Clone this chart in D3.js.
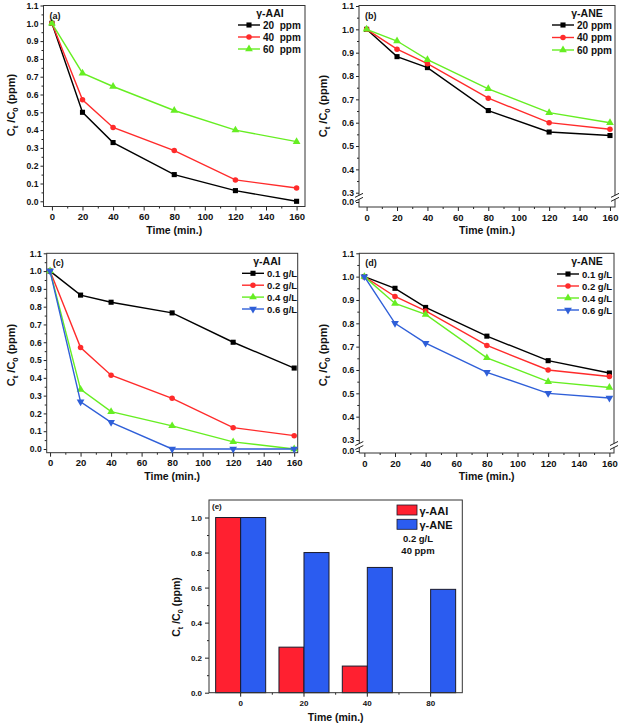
<!DOCTYPE html>
<html><head><meta charset="utf-8">
<script src="https://cdn.jsdelivr.net/npm/d3@7"></script>
<style>
body{margin:0;background:#fff}
svg{display:block}
text{font-family:"Liberation Sans",Arial,Helvetica,sans-serif;font-weight:bold;fill:#111;white-space:pre}
</style>
</head><body>
<svg id="c" width="620" height="725"></svg>
<script>
// ---------- DATA ----------
const timeMin = [0, 20, 40, 80, 120, 160];
const xTicks = [0, 20, 40, 60, 80, 100, 120, 140, 160];
const xMinor = [10, 30, 50, 70, 90, 110, 130, 150];
const yTicksFull = [0.0, 0.1, 0.2, 0.3, 0.4, 0.5, 0.6, 0.7, 0.8, 0.9, 1.0, 1.1];
const yMinorFull = [0.05, 0.15, 0.25, 0.35, 0.45, 0.55, 0.65, 0.75, 0.85, 0.95, 1.05];
const yTicksBroken = [0.0, 0.3, 0.4, 0.5, 0.6, 0.7, 0.8, 0.9, 1.0, 1.1];
const yMinorBroken = [0.35, 0.45, 0.55, 0.65, 0.75, 0.85, 0.95, 1.05];

// (a) gamma-AAI, concentration
const aLabels = ["20  ppm", "40  ppm", "60  ppm"];
const aAAI20 = [1.0, 0.50, 0.33, 0.15, 0.06, 0.0];
const aAAI40 = [1.0, 0.57, 0.415, 0.285, 0.12, 0.075];
const aAAI60 = [1.0, 0.72, 0.645, 0.51, 0.40, 0.335];

// (b) gamma-ANE, concentration
const bLabels = ["20 ppm", "40 ppm", "60 ppm"];
const bANE20 = [1.0, 0.883, 0.836, 0.652, 0.56, 0.545];
const bANE40 = [1.0, 0.915, 0.853, 0.705, 0.60, 0.572];
const bANE60 = [1.0, 0.95, 0.87, 0.745, 0.643, 0.60];

// (c) gamma-AAI, dose
const cLabels = ["0.1 g/L", "0.2 g/L", "0.4 g/L", "0.6 g/L"];
const cAAI01 = [1.0, 0.865, 0.825, 0.765, 0.60, 0.455];
const cAAI02 = [1.0, 0.57, 0.415, 0.285, 0.12, 0.075];
const cAAI04 = [1.0, 0.335, 0.21, 0.13, 0.04, 0.0];
const cAAI06 = [1.0, 0.265, 0.15, 0.0, 0.0, 0.0];

// (d) gamma-ANE, dose
const dLabels = ["0.1 g/L", "0.2 g/L", "0.4 g/L", "0.6 g/L"];
const dANE01 = [1.0, 0.95, 0.868, 0.745, 0.64, 0.587];
const dANE02 = [1.0, 0.915, 0.853, 0.705, 0.60, 0.572];
const dANE04 = [1.0, 0.885, 0.838, 0.652, 0.55, 0.525];
const dANE06 = [1.0, 0.80, 0.715, 0.59, 0.50, 0.48];

// (e) bars
const eCategories = ["0", "20", "40", "80"];
const eSeries = ["γ-AAI", "γ-ANE"];
const eAAI = [1.0, 0.26, 0.152, 0.0];
const eANE = [1.0, 0.80, 0.715, 0.59];
const eTicks = [0.0, 0.2, 0.4, 0.6, 0.8, 1.0];
const eMinor = [0.1, 0.3, 0.5, 0.7, 0.9];

// ---------- STYLE ----------
const COL = {black: "#000000", red: "#ff2b2b", green: "#66ee22", blue: "#2f5fd8"};
const SYM = [
  {type: d3.symbolSquare, size: 26, rot: 0},
  {type: d3.symbolCircle, size: 24, rot: 0},
  {type: d3.symbolTriangle, size: 26, rot: 0},
  {type: d3.symbolTriangle, size: 26, rot: 180}
];
const seriesColors = [COL.black, COL.red, COL.green, COL.blue];

const svg = d3.select("#c");

function styleAxis(g, fs) {
  g.attr("font-family", null).attr("font-size", null);
  g.selectAll("text").attr("font-size", fs).style("font-weight", "bold").attr("fill", "#111");
  g.selectAll("line").attr("stroke", "#222");
  g.select(".domain").remove();
}

function yTitle(g, cx, cy, fs) {
  const t = g.append("text").attr("transform", `translate(${cx},${cy}) rotate(-90)`)
    .attr("text-anchor", "middle").attr("font-size", fs);
  t.append("tspan").text("C");
  t.append("tspan").attr("font-size", fs * 0.7).attr("dy", 3).text("t");
  t.append("tspan").attr("dy", -3).text(" /C");
  t.append("tspan").attr("font-size", fs * 0.7).attr("dy", 3).text("0");
  t.append("tspan").attr("dy", -3).text(" (ppm)");
}

function drawLinePanel(p) {
  const g = svg.append("g");
  const x = d3.scaleLinear().domain(p.xDomain).range([p.L, p.R]);
  const y = d3.scaleLinear().domain(p.yDomain).range(p.yRange);

  const gx = g.append("g").attr("transform", `translate(0,${p.B})`)
    .call(d3.axisBottom(x).tickValues(xTicks).tickSize(4).tickPadding(3).tickFormat(d3.format("d")));
  styleAxis(gx, 9.5);
  const gxm = g.append("g").attr("transform", `translate(0,${p.B})`)
    .call(d3.axisBottom(x).tickValues(xMinor).tickSize(2).tickFormat(""));
  styleAxis(gxm, 9);
  const gy = g.append("g").attr("transform", `translate(${p.L},0)`)
    .call(d3.axisLeft(y).tickValues(p.yTicks).tickSize(3).tickPadding(2).tickFormat(d3.format(".1f")));
  styleAxis(gy, 8.6);
  const gym = g.append("g").attr("transform", `translate(${p.L},0)`)
    .call(d3.axisLeft(y).tickValues(p.yMinor).tickSize(2).tickFormat(""));
  styleAxis(gym, 9);

  g.append("rect").attr("x", p.L).attr("y", p.T).attr("width", p.R - p.L).attr("height", p.B - p.T)
    .attr("fill", "none").attr("stroke", "#333").attr("stroke-width", 1);

  if (p.broken) {
    const ym = (y(0) + y(0.3)) / 2;
    [p.L, p.R].forEach(ax => {
      g.append("rect").attr("x", ax - 4).attr("y", ym - 2).attr("width", 8).attr("height", 4).attr("fill", "#fff");
      [-2, 2].forEach(o => {
        g.append("line").attr("x1", ax - 4).attr("y1", ym + o + 2).attr("x2", ax + 4).attr("y2", ym + o - 2)
          .attr("stroke", "#222").attr("stroke-width", 1);
      });
    });
  }

  const line = d3.line().x((d, i) => x(timeMin[i])).y(d => y(d));
  p.series.forEach((vals, si) => {
    const c = seriesColors[si];
    g.append("path").datum(vals).attr("d", line).attr("fill", "none").attr("stroke", c).attr("stroke-width", 1.4);
    const s = SYM[si];
    g.selectAll(null).data(vals).enter().append("path")
      .attr("d", d3.symbol().type(s.type).size(s.size))
      .attr("transform", (d, i) => `translate(${x(timeMin[i])},${y(d)}) rotate(${s.rot})`)
      .attr("fill", c);
  });

  const lg = p.legend;
  g.append("text").attr("x", lg.titleX).attr("y", lg.titleY).attr("text-anchor", "middle")
    .attr("font-size", 10.5).text(lg.title);
  p.labels.forEach((lab, si) => {
    const yy = lg.y0 + si * lg.dy;
    const c = seriesColors[si];
    g.append("line").attr("x1", lg.x).attr("x2", lg.x + 22).attr("y1", yy).attr("y2", yy)
      .attr("stroke", c).attr("stroke-width", 1.4);
    const s = SYM[si];
    g.append("path").attr("d", d3.symbol().type(s.type).size(s.size))
      .attr("transform", `translate(${lg.x + 11},${yy}) rotate(${s.rot})`).attr("fill", c);
    g.append("text").attr("x", lg.x + 25).attr("y", yy + 3.5).attr("font-size", lg.fs).text(lab);
  });

  g.append("text").attr("x", p.L + 6).attr("y", p.T + 13).attr("font-size", 9).text(p.tag);

  g.append("text").attr("x", (p.L + p.R) / 2).attr("y", p.B + 27).attr("text-anchor", "middle")
    .attr("font-size", 10.5).text("Time (min.)");
  yTitle(g, p.yTitleX, p.yTitleY, 11);
}

const panels = [
  {L: 43.5, R: 305, T: 5.5, B: 206.5, xDomain: [-5.5, 165.5], yDomain: [0, 1.1], yRange: [201.3, 5.5],
   yTicks: yTicksFull, yMinor: yMinorFull, broken: false,
   series: [aAAI20, aAAI40, aAAI60], labels: aLabels,
   legend: {title: "γ-AAI", titleX: 270, titleY: 17, x: 238, y0: 25, dy: 12, fs: 10},
   tag: "(a)", yTitleX: 15, yTitleY: 105},
  {L: 359, R: 615, T: 5.5, B: 207, xDomain: [-5, 163.3], yDomain: [0, 0.3, 1.1], yRange: [202, 192.7, 6],
   yTicks: yTicksBroken, yMinor: yMinorBroken, broken: true,
   series: [bANE20, bANE40, bANE60], labels: bLabels,
   legend: {title: "γ-ANE", titleX: 587, titleY: 17, x: 552, y0: 25, dy: 12.5, fs: 10},
   tag: "(b)", yTitleX: 327, yTitleY: 106},
  {L: 46.7, R: 297.7, T: 253.3, B: 452.7, xDomain: [-2.2, 162.3], yDomain: [0, 1.1], yRange: [449, 253.3],
   yTicks: yTicksFull, yMinor: yMinorFull, broken: false,
   series: [cAAI01, cAAI02, cAAI04, cAAI06], labels: cLabels,
   legend: {title: "γ-AAI", titleX: 267, titleY: 264.5, x: 242, y0: 273.3, dy: 11.9, fs: 9.5},
   tag: "(c)", yTitleX: 15, yTitleY: 355},
  {L: 359.3, R: 614, T: 253.3, B: 453, xDomain: [-3.3, 163], yDomain: [0, 0.3, 1.1], yRange: [451, 440, 253.3],
   yTicks: yTicksBroken, yMinor: yMinorBroken, broken: true,
   series: [dANE01, dANE02, dANE04, dANE06], labels: dLabels,
   legend: {title: "γ-ANE", titleX: 587, titleY: 265, x: 557, y0: 274, dy: 12, fs: 9.5},
   tag: "(d)", yTitleX: 327, yTitleY: 355}
];
panels.forEach(drawLinePanel);

// (e) grouped bars
(function () {
  const E = {L: 209, R: 462.3, T: 500, B: 692.7};
  const g = svg.append("g");
  const x0 = d3.scaleBand().domain(eCategories).range([E.L, E.R]).paddingInner(0.21).paddingOuter(0.105);
  const x1 = d3.scaleBand().domain(eSeries).range([0, x0.bandwidth()]);
  const y = d3.scaleLinear().domain([0, 1.1]).range([E.B, E.T]);
  const barCol = {"γ-AAI": "#ff2030", "γ-ANE": "#2b5cf0"};
  const rows = eCategories.map((c, i) => ({cat: c, vals: [{k: "γ-AAI", v: eAAI[i]}, {k: "γ-ANE", v: eANE[i]}]}));
  rows.forEach(r => {
    r.vals.filter(d => d.v > 0).forEach(d => {
      g.append("rect").attr("x", x0(r.cat) + x1(d.k)).attr("y", y(d.v))
        .attr("width", x1.bandwidth()).attr("height", y(0) - y(d.v))
        .attr("fill", barCol[d.k]).attr("stroke", "#1a1a2a").attr("stroke-width", 1);
    });
  });
  const gx = g.append("g").attr("transform", `translate(0,${E.B})`)
    .call(d3.axisBottom(x0).tickSize(4).tickPadding(4));
  styleAxis(gx, 8);
  const bounds = eCategories.slice(1).map(c => x0(c) - x0.step() * 0.105);
  bounds.forEach(bx => g.append("line").attr("x1", bx).attr("x2", bx).attr("y1", E.B).attr("y2", E.B + 2).attr("stroke", "#222"));
  const gy = g.append("g").attr("transform", `translate(${E.L},0)`)
    .call(d3.axisLeft(y).tickValues(eTicks).tickSize(4).tickPadding(3).tickFormat(d3.format(".1f")));
  styleAxis(gy, 8);
  const gym = g.append("g").attr("transform", `translate(${E.L},0)`)
    .call(d3.axisLeft(y).tickValues(eMinor).tickSize(2).tickFormat(""));
  styleAxis(gym, 8);
  g.append("rect").attr("x", E.L).attr("y", E.T).attr("width", E.R - E.L).attr("height", E.B - E.T)
    .attr("fill", "none").attr("stroke", "#333").attr("stroke-width", 1);
  eSeries.forEach((s, i) => {
    const yy = 505 + i * 14.3;
    g.append("rect").attr("x", 397).attr("y", yy).attr("width", 20).attr("height", 10)
      .attr("fill", barCol[s]).attr("stroke", "#1a1a2a").attr("stroke-width", 0.8);
    g.append("text").attr("x", 419.5).attr("y", yy + 9.5).attr("font-size", 11).text(s);
  });
  g.append("text").attr("x", 418).attr("y", 542).attr("text-anchor", "middle").attr("font-size", 9.5).text("0.2 g/L");
  g.append("text").attr("x", 418).attr("y", 554).attr("text-anchor", "middle").attr("font-size", 9.5).text("40 ppm");
  g.append("text").attr("x", E.L + 3).attr("y", E.T + 9).attr("font-size", 8).text("(e)");
  g.append("text").attr("x", (E.L + E.R) / 2).attr("y", 721).attr("text-anchor", "middle")
    .attr("font-size", 10.5).text("Time (min.)");
  yTitle(g, 180, 607, 10.5);
})();
</script>
</body></html>
